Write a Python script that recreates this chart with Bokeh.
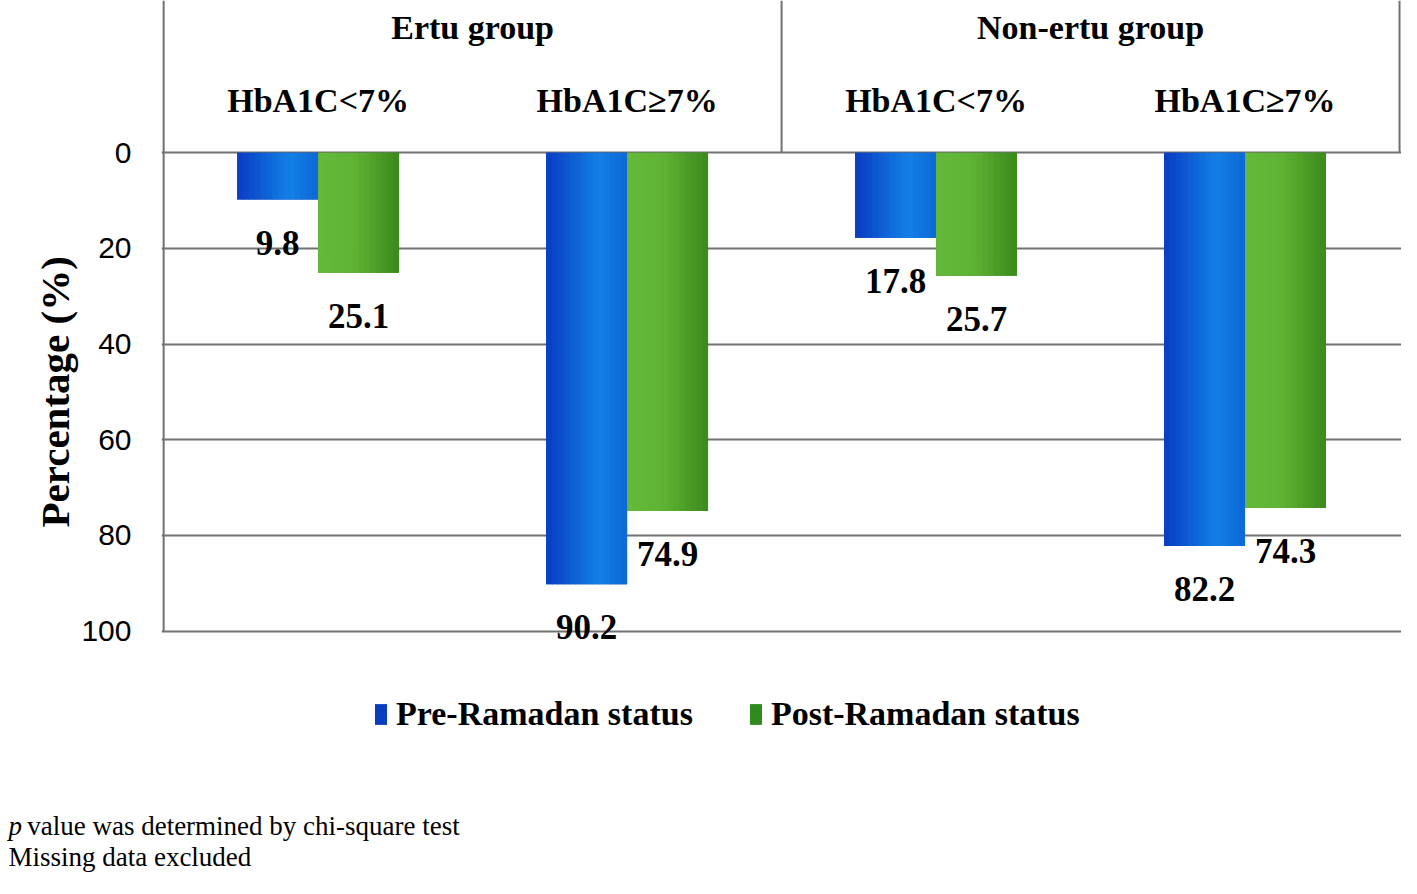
import numpy as np
from bokeh.plotting import figure
from bokeh.models import Range1d, FixedTicker, Legend, LegendItem, ColumnDataSource
from bokeh.embed import file_html
from bokeh.resources import INLINE
from bokeh.core.properties import value

# ---------------- data ----------------
groups = ["Ertu group", "Non-ertu group"]
subgroups = ["HbA1C<7%", "HbA1C\u22657%", "HbA1C<7%", "HbA1C\u22657%"]
pre_values = [9.8, 90.2, 17.8, 82.2]
post_values = [25.1, 74.9, 25.7, 74.3]
series_names = ["Pre-Ramadan status", "Post-Ramadan status"]
y_ticks = [0, 20, 40, 60, 80, 100]
y_label = "Percentage (%)"
footnote_italic = "p"
footnote_lines = ["value was determined by chi-square test", "Missing data excluded"]

# ---------------- layout / style ----------------
W, H = 1401, 878
SX, SY = W / 1417.0, H / 894.0      # reference-pixel -> canvas-pixel scale
AXIS_PX = 165 * SX                  # canvas px of category x=0 (axis line)
RIGHT_PX = 1415 * SX                # canvas px of category x=4 (right border)
ZERO_PX = 155 * SY                  # canvas px of y=0
HUND_PX = 642 * SY                  # canvas px of y=100
FRAME_LEFT = int(AXIS_PX) - 2
SERIF = "Liberation Serif"
GRID = "#717171"
BAR_W = 0.262
N_STRIPS = 14

n_cat = len(subgroups)
PXC = (RIGHT_PX - AXIS_PX) / n_cat
PXU = (HUND_PX - ZERO_PX) / 100.0
x_start = (FRAME_LEFT - AXIS_PX) / PXC
x_end = x_start + (W - FRAME_LEFT) / PXC
y_top = -ZERO_PX / PXU
y_bottom = y_top + H / PXU


def rx(px):   # reference x pixel -> data x
    return (px * SX - AXIS_PX) / PXC


def ry(py):   # reference y pixel -> data y
    return (py * SY - ZERO_PX) / PXU


centers = [i + 0.5 for i in range(n_cat)]
pre_x = [c - BAR_W / 2 for c in centers]
post_x = [c + BAR_W / 2 for c in centers]


def hex_to_rgb(h):
    h = h.lstrip("#")
    return np.array([int(h[i:i + 2], 16) for i in (0, 2, 4)], dtype=float)


def grad_color(stops, t):
    for (t0, c0), (t1, c1) in zip(stops[:-1], stops[1:]):
        if t0 <= t <= t1:
            f = (t - t0) / (t1 - t0) if t1 > t0 else 0
            rgb = hex_to_rgb(c0) * (1 - f) + hex_to_rgb(c1) * f
            return "#%02x%02x%02x" % tuple(int(round(v)) for v in rgb)
    return stops[-1][1]


blue_stops = [(0.0, "#0a3cc2"), (0.65, "#1380e6"), (1.0, "#0d68d6")]
green_stops = [(0.0, "#66b93b"), (0.45, "#5fb334"), (1.0, "#3b891d")]

p = figure(width=W, height=H, x_range=Range1d(x_start, x_end), y_range=Range1d(y_bottom, y_top),
           output_backend="svg", toolbar_location=None,
           min_border_left=FRAME_LEFT, min_border_right=0, min_border_top=0, min_border_bottom=0,
           x_axis_location=None)
p.outline_line_color = None
p.xgrid.visible = False
p.ygrid.ticker = FixedTicker(ticks=y_ticks)
p.ygrid.grid_line_color = GRID
p.ygrid.grid_line_width = 2

p.yaxis.ticker = FixedTicker(ticks=y_ticks)
p.yaxis.major_tick_line_color = None
p.yaxis.minor_tick_line_color = None
p.yaxis.major_tick_out = 0
p.yaxis.major_tick_in = 0
p.yaxis.major_label_standoff = 30
p.yaxis.major_label_text_font = "Liberation Sans"
p.yaxis.major_label_text_font_size = "30px"
p.yaxis.major_label_text_color = "black"
p.yaxis.axis_line_color = None

# axis line (0..100) and header box lines
p.segment(x0=[0], x1=[0], y0=[y_top], y1=[y_ticks[-1]], line_color=GRID, line_width=2)
per_group = n_cat // len(groups)
bounds = [per_group * (i + 1) for i in range(len(groups))]
p.segment(x0=bounds, x1=bounds, y0=[0] * len(bounds), y1=[y_top] * len(bounds),
          line_color=GRID, line_width=2)

# header texts
gx = [per_group * i + per_group / 2 for i in range(len(groups))]
p.text(x=gx, y=[ry(27)] * len(groups), text=groups, text_align="center", text_baseline="middle",
       text_font=value(SERIF), text_font_style="bold", text_font_size="34px", text_color="black")
p.text(x=centers, y=[ry(102)] * n_cat, text=subgroups, text_align="center", text_baseline="middle",
       text_font=value(SERIF), text_font_style="bold", text_font_size="34px", text_color="black")

# base bars (used by legend)
r_pre = p.vbar(x=pre_x, top=pre_values, bottom=0, width=BAR_W,
               fill_color="#0a3cc0", line_color=None)
r_post = p.vbar(x=post_x, top=post_values, bottom=0, width=BAR_W,
                fill_color="#2f8a1f", line_color=None)


def strips(xs, vals, stops):
    L, R, T, C = [], [], [], []
    sw = BAR_W / N_STRIPS
    for x, v in zip(xs, vals):
        left0 = x - BAR_W / 2
        for k in range(N_STRIPS):
            L.append(left0 + k * sw)
            R.append(min(left0 + (k + 1) * sw + 0.003, left0 + BAR_W))
            T.append(v)
            C.append(grad_color(stops, (k + 0.5) / N_STRIPS))
    return dict(left=L, right=R, top=T, bottom=[0] * len(L), color=C)


p.quad(source=ColumnDataSource(strips(pre_x, pre_values, blue_stops)),
       left="left", right="right", top="top", bottom="bottom", fill_color="color", line_color=None)
p.quad(source=ColumnDataSource(strips(post_x, post_values, green_stops)),
       left="left", right="right", top="top", bottom="bottom", fill_color="color", line_color=None)

# value labels
lab_vals = pre_values + post_values
lab_src = ColumnDataSource(dict(x=pre_x + post_x, y=lab_vals, t=["%.1f" % v for v in lab_vals]))
tr = p.text(x="x", y="y", text="t", source=lab_src, text_align="center", text_baseline="middle",
            y_offset=43, text_font=value(SERIF), text_font_style="bold", text_font_size="35px",
            text_color="black")
tr.level = "overlay"

# y-axis title (centred on the 0..100 span)
yl = p.text(x=[rx(55)], y=[(y_ticks[0] + y_ticks[-1]) / 2], text=[y_label], angle=np.pi / 2,
            text_align="center", text_baseline="middle", text_font=value(SERIF),
            text_font_style="bold", text_font_size="41px", text_color="black")
yl.level = "overlay"

legend = Legend(items=[LegendItem(label=series_names[0], renderers=[r_pre]),
                       LegendItem(label=series_names[1], renderers=[r_post])],
                orientation="horizontal", location=(int(378 * SX) - FRAME_LEFT, 145),
                margin=0, padding=0,
                spacing=55, label_standoff=8, glyph_width=15, glyph_height=26,
                border_line_color=None, background_fill_alpha=0,
                label_text_font=SERIF, label_text_font_style="bold", label_text_font_size="34px",
                label_text_color="black")
p.add_layout(legend, "center")

# footnotes
fn1 = p.text(x=[rx(8)], y=[ry(841)], text=[footnote_italic], text_align="left", text_baseline="middle",
             text_font=value(SERIF), text_font_style="italic", text_font_size="27px", text_color="black")
fn2 = p.text(x=[rx(27), rx(8)], y=[ry(841), ry(872)], text=footnote_lines, text_align="left",
             text_baseline="middle", text_font=value(SERIF), text_font_size="27px", text_color="black")
fn1.level = "overlay"
fn2.level = "overlay"

open("out.html", "w").write(file_html(p, INLINE))
